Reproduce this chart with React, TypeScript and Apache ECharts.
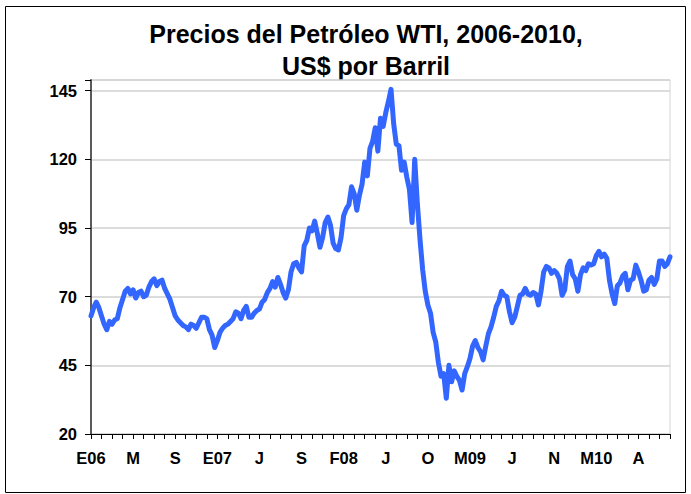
import React, { useEffect, useRef } from "react";
import * as echarts from "echarts";

const titleLines = ["Precios del Petróleo WTI, 2006-2010,", "US$ por Barril"];
const tickLabels = ["E06", "M", "S", "E07", "J", "S", "F08", "J", "O", "M09", "J", "N", "M10", "A"];
const pointsPerLabel = 16;
const pointsPerTick = 4;
const yTicks = { min: 20, interval: 25, top: 148.9 };

// Roughly weekly WTI price readings, Jan 2006 - Oct 2010 (US$/barrel)
const prices2006 = [
  63, 66, 68, 66, 63, 60, 58, 61, 60, 61.5, 62, 66, 69, 72, 73, 71,
  72.5, 69.5, 71.5, 72, 70, 70.5, 73.5, 75.5, 76.5, 74, 75.5, 76, 73, 71, 69, 66,
  63, 61.5, 60.5, 59.5, 59, 58, 60, 59.5, 58.5, 60.5, 62.5, 62.5, 62, 58, 56, 51.5,
];
const prices2007 = [
  54, 57, 58.5, 59.5, 60, 61, 62, 64.5, 64, 62, 65, 66.5, 62.5, 62.5, 64, 65,
  65.5, 68, 69, 71.5, 73, 75.5, 73.5, 77, 74.5, 71.5, 69.5, 72.5, 79, 82, 82.5, 80.5,
  79, 88.5, 90.5, 95, 94, 97.5, 93, 88, 91.5, 97, 99, 96, 89.5, 87.5, 87, 91.5,
];
const prices2008 = [
  99.5, 102, 103.5, 110, 107.5, 101.5, 107, 111, 119, 114, 124, 126.5, 131.5, 123, 135, 132,
  137, 141, 145.5, 133, 125.5, 125, 116, 119, 113.5, 109, 97, 120, 104, 91, 80, 72,
  67, 64, 57, 53.5, 46, 41, 42, 33, 45, 39, 43, 41, 39.5, 36, 42, 44.5,
];
const prices2009 = [
  47.5, 52, 54, 51.5, 50, 47, 52, 56.5, 59, 62.5, 66.5, 68.5, 72, 70.5, 70, 64.5,
  60.5, 62.5, 66.5, 70.5, 71, 73, 71, 70.5, 71.5, 71, 67, 72, 79, 81, 80.5, 78.5,
  79.5, 78.5, 76.5, 70.5, 72.5, 81, 83, 78, 76.5, 72, 78, 80.5, 79.5, 82, 81.5, 82,
];
const prices2010 = [
  85, 86.5, 84.5, 85.5, 84, 76, 71, 67.5, 74, 75, 77.5, 78.5, 72.5, 76, 76.5, 81.5,
  79, 76, 72, 72.5, 76, 77, 74.5, 76.5, 83, 83, 81, 82, 84.5,
];
const prices = [...prices2006, ...prices2007, ...prices2008, ...prices2009, ...prices2010];

const categories = prices.map((_, i) =>
  i % pointsPerLabel === 0 && tickLabels[i / pointsPerLabel] !== undefined ? tickLabels[i / pointsPerLabel] : ""
);

const FONT = "'Liberation Sans', Arial, Helvetica, sans-serif";

export default function App() {
  const ref = useRef<HTMLDivElement>(null);
  useEffect(() => {
    if (!ref.current) return;
    const chart = echarts.init(ref.current, undefined, { renderer: "svg" });
    chart.setOption({
      animation: false,
      backgroundColor: "#ffffff",
      graphic: [
        {
          type: "rect",
          shape: { x: 5.5, y: 6.5, width: 680, height: 486 },
          style: { fill: "none", stroke: "#000000", lineWidth: 1 },
          silent: true,
        },
        {
          type: "text",
          x: 366,
          y: 34,
          style: {
            text: titleLines[0],
            font: `bold 25px ${FONT}`,
            fill: "#000000",
            textAlign: "center",
            textVerticalAlign: "middle",
          },
        },
        {
          type: "text",
          x: 366,
          y: 66,
          style: {
            text: titleLines[1],
            font: `bold 25px ${FONT}`,
            fill: "#000000",
            textAlign: "center",
            textVerticalAlign: "middle",
          },
        },
      ],
      grid: {
        left: 91,
        right: 21,
        top: 80,
        bottom: 60,
        show: true,
        borderColor: "#d4d4d4",
        borderWidth: 1,
        backgroundColor: "transparent",
      },
      xAxis: {
        type: "category",
        data: categories,
        boundaryGap: false,
        axisLine: { show: true, lineStyle: { color: "#000000", width: 1 } },
        axisTick: {
          show: true,
          interval: pointsPerTick - 1,
          length: 5,
          lineStyle: { color: "#000000", width: 1 },
        },
        axisLabel: {
          interval: pointsPerLabel - 1,
          margin: 15,
          color: "#000000",
          fontFamily: FONT,
          fontWeight: "bold",
          fontSize: 16.5,
        },
        splitLine: { show: false },
      },
      yAxis: {
        type: "value",
        min: yTicks.min,
        max: yTicks.top,
        interval: yTicks.interval,
        axisLine: { show: true, lineStyle: { color: "#5a5a5a", width: 2 } },
        axisTick: { show: true, length: 6, lineStyle: { color: "#000000", width: 1 } },
        axisLabel: {
          margin: 14,
          color: "#000000",
          fontFamily: FONT,
          fontWeight: "bold",
          fontSize: 16.5,
          formatter: (v: number) => ((v - yTicks.min) % yTicks.interval === 0 ? String(v) : ""),
        },
        splitLine: { show: true, lineStyle: { color: "#d0d0d0", width: 1.5 } },
      },
      series: [
        {
          type: "line",
          data: prices,
          showSymbol: false,
          symbol: "none",
          lineStyle: { color: "#3366ff", width: 5, join: "round", cap: "round" },
          itemStyle: { color: "#3366ff" },
        },
      ],
    });
    return () => chart.dispose();
  }, []);
  return (
    <div
      ref={ref}
      style={{ position: "fixed", left: 0, top: 0, width: 691, height: 494, background: "#ffffff" }}
    />
  );
}
